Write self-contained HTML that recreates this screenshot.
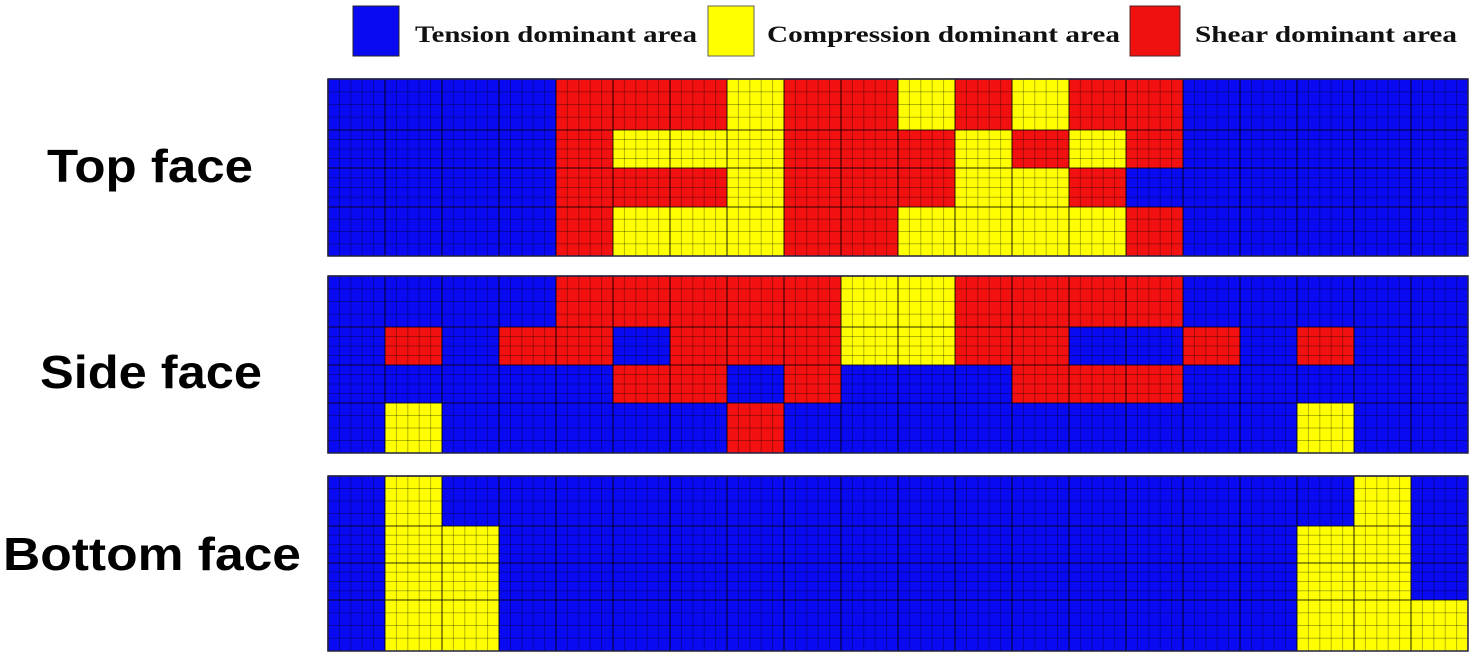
<!DOCTYPE html>
<html><head><meta charset="utf-8"><style>
html,body{margin:0;padding:0;background:#fff;}
svg{display:block;}
.lab{font-family:"Liberation Sans",sans-serif;font-weight:bold;font-size:46px;fill:#000;}
.leg{font-family:"Liberation Serif",serif;font-weight:bold;font-size:23px;fill:#111;}
</style></head><body>
<svg id="s" width="1476" height="661" xmlns="http://www.w3.org/2000/svg">
<rect x="353" y="6" width="46" height="50" fill="#0a0af0" stroke="#223" stroke-width="1"/>
<text class="leg" x="415" y="42" textLength="282" lengthAdjust="spacingAndGlyphs">Tension dominant area</text>
<rect x="708" y="6" width="46" height="50" fill="#ffff00" stroke="#665" stroke-width="1"/>
<text class="leg" x="767" y="42" textLength="353" lengthAdjust="spacingAndGlyphs">Compression dominant area</text>
<rect x="1130" y="6" width="50" height="50" fill="#f01010" stroke="#522" stroke-width="1"/>
<text class="leg" x="1195" y="42" textLength="262" lengthAdjust="spacingAndGlyphs">Shear dominant area</text>
<text class="lab" x="47" y="182" textLength="206" lengthAdjust="spacingAndGlyphs">Top face</text>
<text class="lab" x="40" y="388" textLength="222" lengthAdjust="spacingAndGlyphs">Side face</text>
<text class="lab" x="3" y="570" textLength="298" lengthAdjust="spacingAndGlyphs">Bottom face</text>
<g id="g"></g>
</svg>
<script>
var C={B:"#0a0af2",Y:"#ffff00",R:"#f21010"};
var panels=[
 {rows:[79,130,168,207,256],d:[
 "BBBBRRRYRRYRYRRBBBBB",
 "BBBBRYYYRRRYRYRBBBBB",
 "BBBBRRRYRRRYYRBBBBBB",
 "BBBBRYYYRRYYYYRBBBBB"]},
 {rows:[276,327,365,403,453],d:[
 "BBBBRRRRRYYRRRRBBBBB",
 "BRBRRBRRRYYRRBBRBRBB",
 "BBBBBRRBRBBBRRRBBBBB",
 "BYBBBBBRBBBBBBBBBYBB"]},
 {rows:[476,526,563,600,651],d:[
 "BYBBBBBBBBBBBBBBBBYB",
 "BYYBBBBBBBBBBBBBBYYB",
 "BYYBBBBBBBBBBBBBBYYB",
 "BYYBBBBBBBBBBBBBBYYY"]}
];
var x0=328,w=57,h="";
panels.forEach(function(p){
 var top=p.rows[0],bot=p.rows[4];
 for(var r=0;r<4;r++)for(var c=0;c<20;c++){
  h+='<rect x="'+(x0+c*w)+'" y="'+p.rows[r]+'" width="'+(w+0.5)+'" height="'+(p.rows[r+1]-p.rows[r]+0.5)+'" fill="'+C[p.d[r][c]]+'"/>';
 }
 for(var c=0;c<20;c++)for(var k=0;k<5;k++){
  var x=x0+c*w+k*w/5;
  h+='<line x1="'+x+'" y1="'+top+'" x2="'+x+'" y2="'+bot+'" stroke="#000" stroke-opacity="'+(k==0?0.55:0.3)+'" stroke-width="'+(k==0?1.6:1)+'"/>';
 }
 for(var r=0;r<4;r++){var a=p.rows[r],b=p.rows[r+1];for(var k=0;k<4;k++){
  var y=a+(b-a)*k/4;
  h+='<line x1="'+x0+'" y1="'+y+'" x2="'+(x0+20*w)+'" y2="'+y+'" stroke="#000" stroke-opacity="'+(k==0?0.55:0.3)+'" stroke-width="'+(k==0?1.6:1)+'"/>';
 }}
 h+='<rect x="'+x0+'" y="'+top+'" width="'+(20*w)+'" height="'+(bot-top)+'" fill="none" stroke="#224" stroke-width="1.5"/>';
});
document.getElementById("g").innerHTML=h;
</script>
</body></html>
